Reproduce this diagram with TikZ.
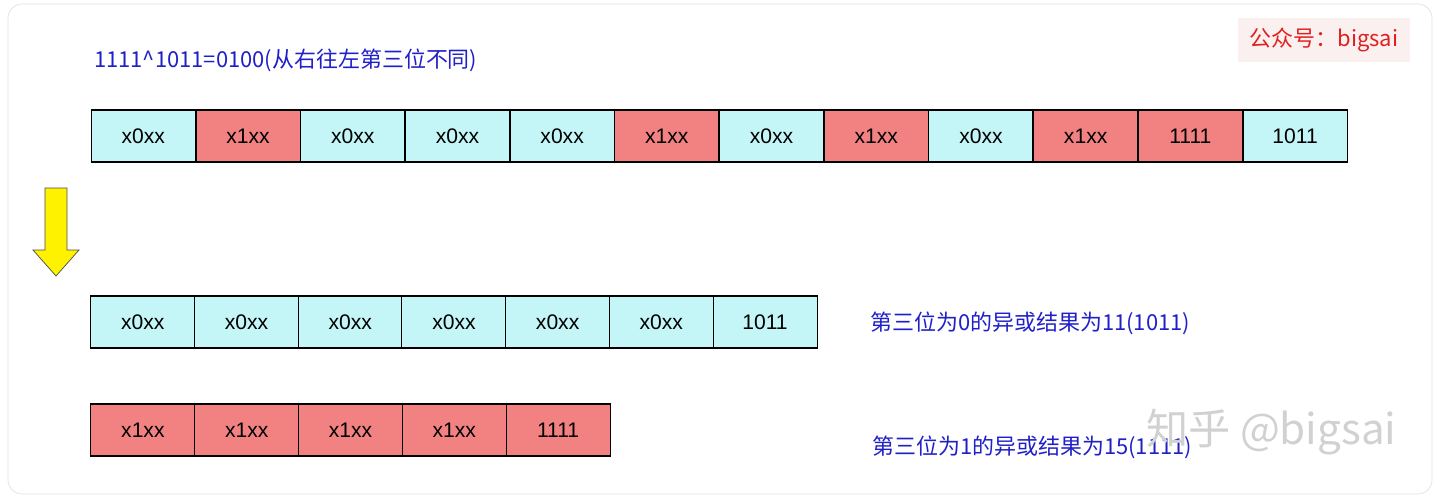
\documentclass[tikz,border=0pt]{standalone}
\usepackage{fontspec}
\setmainfont{Liberation Sans}
\newfontfamily\cjk{Noto Sans CJK SC}
\definecolor{cellcyan}{HTML}{C4F6F8}
\definecolor{cellred}{HTML}{F28282}
\definecolor{noteblue}{HTML}{2020C8}
\definecolor{tagred}{HTML}{E0201E}
\definecolor{tagbg}{HTML}{FBF0F0}
\tikzset{
  cell/.style={draw=black, line width=0.6pt, minimum width=2.08cm, minimum height=1.04cm,
    inner sep=0pt, font=\fontsize{12}{14}\selectfont},
  c0/.style={cell, fill=cellcyan},
  c1/.style={cell, fill=cellred},
  note/.style={text=noteblue, anchor=west, font=\cjk\fontsize{12.5}{14}\selectfont}
}
\begin{document}
\begin{tikzpicture}[x=0.02cm,y=-0.02cm]
  \useasboundingbox (0,0) rectangle (1440,498);
  \draw[rounded corners=8pt, draw=black!12] (8,4) rectangle (1432,494);

  % title
  \node[note] (title) at (88,60) {1111\^{}1011=0100(从右往左第三位不同)};
  \node[fill=tagbg, text=tagred, minimum width=3.44cm, minimum height=0.88cm,
    font=\cjk\fontsize{12.5}{14}\selectfont] (tag) at (1324,40) {公众号：bigsai};

  % first row
  \foreach \t [count=\i] in {0,1,0,0,0,1,0,1,0,1} {
    \node[c\t] (a\i) at ({91+104.7*(\i-0.5)},136) {x\t xx};
  }
  \node[c1] (a11) at ({91+104.7*10.5},136) {1111};
  \node[c0] (a12) at ({91+104.7*11.5},136) {1011};

  % arrow
  \draw[draw=black!70, fill=yellow, line join=miter]
    (45,188) -- (67,188) -- (67,250) -- (79,250) -- (56,276) -- (33,250) -- (45,250) -- cycle;

  % second row
  \foreach \i in {1,...,6} {
    \node[c0] (b\i) at ({91+103.7*(\i-0.5)},322) {x0xx};
  }
  \node[c0] (b7) at ({91+103.7*6.5},322) {1011};
  \node[note] (r0) at (864,323) {第三位为0的异或结果为11(1011)};

  % third row
  \foreach \i in {1,...,4} {
    \node[c1] (c\i) at ({91+103.8*(\i-0.5)},430) {x1xx};
  }
  \node[c1] (c5) at ({91+103.8*4.5},430) {1111};
  \node[note] (r1) at (866,447) {第三位为1的异或结果为15(1111)};

  % watermark
  \node[text=black!18, anchor=west, font=\cjk\fontsize{24}{28}\selectfont] (wm) at (1140,432) {知乎 @bigsai};
\end{tikzpicture}
\end{document}
